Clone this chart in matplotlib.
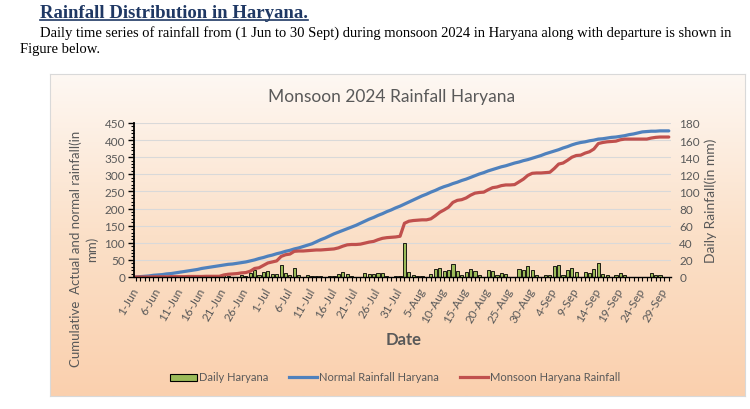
import matplotlib
matplotlib.use('Agg')
import matplotlib.pyplot as plt
import numpy as np
from matplotlib.colors import LinearSegmentedColormap
from matplotlib.patches import Rectangle
from matplotlib.lines import Line2D

# ---------------- data ----------------
n_days = 122  # 1 Jun .. 30 Sep 2024
tick_labels = ["1-Jun", "6-Jun", "11-Jun", "16-Jun", "21-Jun", "26-Jun",
               "1-Jul", "6-Jul", "11-Jul", "16-Jul", "21-Jul", "26-Jul", "31-Jul",
               "5-Aug", "10-Aug", "15-Aug", "20-Aug", "25-Aug", "30-Aug",
               "4-Sep", "9-Sep", "14-Sep", "19-Sep", "24-Sep", "29-Sep"]

daily_haryana = [
    0, 0, 0, 0, 0, 0, 0, 0, 0, 0,
    0, 0, 0, 0, 0, 0, 0, 0, 0, 0,
    3, 1, 0.5, 0.5, 2, 1, 5, 8, 2, 6,
    6.5, 3, 3.5, 14, 5, 2, 10, 2, 0.5, 2.7,
    1.5, 1.5, 1.5, 0.5, 1.5, 1.5, 3.5, 5.4, 4, 1.5,
    0.5, 0.5, 5, 3.5, 3.5, 5, 4.6, 1.5, 0.5, 1.5,
    1.5, 40, 6, 2, 1, 1, 0.5, 3, 9.6, 10.4,
    7.3, 7.7, 14.7, 7.3, 2.7, 5.4, 8.9, 6.6, 2, 0.5,
    7.7, 6.6, 2, 4.6, 3.5, 0.5, 0.5, 8.9, 8.5, 12.4,
    7.7, 2, 0.3, 2, 2, 12.7, 14.3, 2.7, 8.5, 10,
    5.4, 0.5, 6.2, 4.6, 8.9, 16.2, 3, 2.3, 0.3, 2,
    5, 2.3, 0.2, 0, 0, 0, 0.3, 4.2, 2, 2.7,
    0.5, 0]

normal_rainfall = [
    0, 1, 2, 3, 5, 6,
    7, 9, 10, 12, 14,
    16, 18, 20, 22, 25,
    27, 29, 31, 33, 35,
    37, 38, 40, 42, 44,
    47, 50, 54, 57, 61,
    64, 68, 71, 75, 78,
    82, 85, 89, 93, 97,
    103, 109, 114, 120, 126,
    131, 136, 141, 146, 151,
    157, 163, 169, 174, 180,
    185, 191, 196, 202, 207,
    213, 219, 225, 231, 237,
    242, 248, 253, 259, 264,
    268, 273, 277, 282, 286,
    291, 296, 301, 305, 310,
    314, 318, 322, 325, 329,
    333, 336, 340, 343, 347,
    351, 355, 360, 364, 368,
    372, 377, 381, 386, 390,
    393, 395, 398, 400, 403,
    404, 406, 408, 409, 411,
    413, 416, 418, 421, 424,
    425, 426, 426, 427, 427, 427]

monsoon_rainfall = [
    0, 0, 0, 0, 0.5, 0.5, 0.5, 0.5, 1, 1,
    1, 1, 1.5, 1.5, 1.5, 1.5, 2, 2, 2, 2,
    6, 8, 9, 10, 12, 13, 17, 25, 27, 34,
    41, 44, 47, 60, 65, 67, 75, 76, 76, 77,
    78, 79, 79, 80, 81, 82, 85, 90, 94, 95,
    95, 96, 99, 102, 104, 109, 113, 115, 116, 117,
    119, 157, 163, 165, 166, 167, 167, 170, 179, 189,
    196, 204, 218, 224, 226, 231, 239, 245, 247, 248,
    255, 261, 263, 267, 269, 269, 270, 278, 286, 297,
    303, 304, 304, 305, 306, 317, 330, 333, 341, 350,
    355, 356, 362, 366, 374, 390, 393, 395, 396, 397,
    401, 403, 403, 403, 403, 403, 403, 406, 408, 409,
    409, 409]

left_ticks = [0, 50, 100, 150, 200, 250, 300, 350, 400, 450]
right_ticks = [0, 20, 40, 60, 80, 100, 120, 140, 160, 180]

# ---------------- figure ----------------
W, H = 750, 410
fig = plt.figure(figsize=(W / 100, H / 100), dpi=100)
fig.patch.set_facecolor('white')


def fx(x):
    return x / W


def fy(y):
    return 1 - y / H


GRAY = '#595959'
FONT = 'Lato'

# header text
head = fig.text(fx(40), fy(13), "Rainfall Distribution in Haryana.",
                family='Liberation Serif', weight='bold', size=13.5,
                color='#1F3864', va='center', ha='left')
fig.text(fx(40), fy(33),
         "Daily time series of rainfall from (1 Jun to 30 Sept) during monsoon 2024 in Haryana along with departure is shown in",
         family='Liberation Serif', size=10.55, color='black', va='center', ha='left')
fig.text(fx(20), fy(49), "Figure below.",
         family='Liberation Serif', size=10.55, color='black', va='center', ha='left')

# chart background box with gradient
bg = fig.add_axes([fx(50), fy(397), 695 / W, 322 / H], zorder=0)
grad = np.linspace(0, 1, 256).reshape(-1, 1)
cmap = LinearSegmentedColormap.from_list('peach', ['#FEF8F3', '#FBE0C8', '#FAD0AE'])
bg.imshow(grad, aspect='auto', cmap=cmap, extent=[0, 1, 0, 1], origin='upper')
bg.set_xticks([])
bg.set_yticks([])
for s in bg.spines.values():
    s.set_color('#D9D9D9')
    s.set_linewidth(0.8)

# main axes: bars on right scale (behind), lines on left scale (front)
ax_left, ax_right_px, ax_top, ax_bot = 133.5, 671, 124, 278
pos = [fx(ax_left), fy(ax_bot), (ax_right_px - ax_left) / W, (ax_bot - ax_top) / H]
ax2 = fig.add_axes(pos, zorder=1)
ax2.patch.set_alpha(0)
ax = fig.add_axes(pos, zorder=2, sharex=ax2)
ax.patch.set_alpha(0)

x = np.arange(n_days)

# bars (right scale)
ax2.bar(x, daily_haryana, width=0.72, color='#9BBB59', edgecolor='black',
        linewidth=0.6, zorder=3)
ax2.set_ylim(0, 180)
ax2.set_yticks(right_ticks)
ax2.yaxis.tick_right()
ax2.tick_params(axis='y', length=0, labelsize=8.5, labelcolor=GRAY, pad=6)
for lab in ax2.get_yticklabels():
    lab.set_family(FONT)
ax2.grid(axis='y', color='#D9D9D9', linewidth=0.8, zorder=0)
ax2.set_axisbelow(True)
for s in ax2.spines.values():
    s.set_visible(False)
ax2.tick_params(axis='x', which='both', bottom=False, labelbottom=False)

# lines (left scale)
ax.plot(x, normal_rainfall, color='#4F81BD', linewidth=2.3, solid_capstyle='round')
ax.plot(x, monsoon_rainfall, color='#C0504D', linewidth=2.3, solid_capstyle='round')
ax.set_ylim(0, 450)
ax.set_yticks(left_ticks)
ax.set_yticks(np.arange(0, 451, 10), minor=True)
ax.tick_params(axis='y', which='major', length=4, width=1, color='black',
               labelsize=8.5, labelcolor=GRAY, pad=2)
ax.tick_params(axis='y', which='minor', length=2.5, width=0.8, color='black')
for lab in ax.get_yticklabels():
    lab.set_family(FONT)
ax.set_xlim(-0.5, n_days - 0.5)
ax.set_xticks(np.arange(0, n_days, 5))
ax.set_xticks(np.arange(n_days), minor=True)
ax.set_xticklabels(tick_labels, rotation=60, ha='right', va='center',
                   rotation_mode='anchor', family=FONT, fontsize=8.5, color=GRAY)
ax.tick_params(axis='x', which='both', length=3, width=0.8, color='black', pad=5)
ax.spines['top'].set_visible(False)
ax.spines['right'].set_visible(False)
ax.spines['left'].set_color('black')
ax.spines['left'].set_linewidth(1.3)
ax.spines['bottom'].set_color('black')
ax.spines['bottom'].set_linewidth(1.0)

# texts in chart
fig.text(fx(392), fy(97), "Monsoon 2024 Rainfall Haryana", family=FONT, size=12.5,
         color=GRAY, ha='center', va='center')
fig.text(fx(84), fy(249), "Cumulative  Actual and normal rainfall(in\nmm)", family=FONT,
         size=9.5, color=GRAY, rotation=90, ha='center', va='center',
         multialignment='center', linespacing=1.35)
fig.text(fx(711), fy(201), "Daily Rainfall(in mm)", family=FONT, size=10,
         color=GRAY, rotation=90, ha='center', va='center')
fig.text(fx(404), fy(340), "Date", family=FONT, size=12, weight='bold',
         color=GRAY, ha='center', va='center')

# legend (manual)
ly = 378
fig.add_artist(Rectangle((fx(170), fy(381.5)), 27 / W, 7 / H, facecolor='#9BBB59',
                         edgecolor='black', linewidth=0.8, transform=fig.transFigure))
fig.text(fx(199), fy(ly), "Daily Haryana", family=FONT, size=8, color=GRAY, va='center')
fig.add_artist(Line2D([fx(289), fx(317)], [fy(ly), fy(ly)], color='#4F81BD', linewidth=2.3,
                      transform=fig.transFigure))
fig.text(fx(319), fy(ly), "Normal Rainfall Haryana", family=FONT, size=8, color=GRAY, va='center')
fig.add_artist(Line2D([fx(460), fx(488)], [fy(ly), fy(ly)], color='#C0504D', linewidth=2.3,
                      transform=fig.transFigure))
fig.text(fx(490), fy(ly), "Monsoon Haryana Rainfall", family=FONT, size=8, color=GRAY, va='center')

# underline header
fig.canvas.draw()
bb = head.get_window_extent(renderer=fig.canvas.get_renderer())
bbf = bb.transformed(fig.transFigure.inverted())
fig.add_artist(Line2D([bbf.x0, bbf.x1], [bbf.y0 + 0.002, bbf.y0 + 0.002], color='#1F3864',
                      linewidth=1.2, transform=fig.transFigure))

fig.savefig('out.png', dpi=100)
